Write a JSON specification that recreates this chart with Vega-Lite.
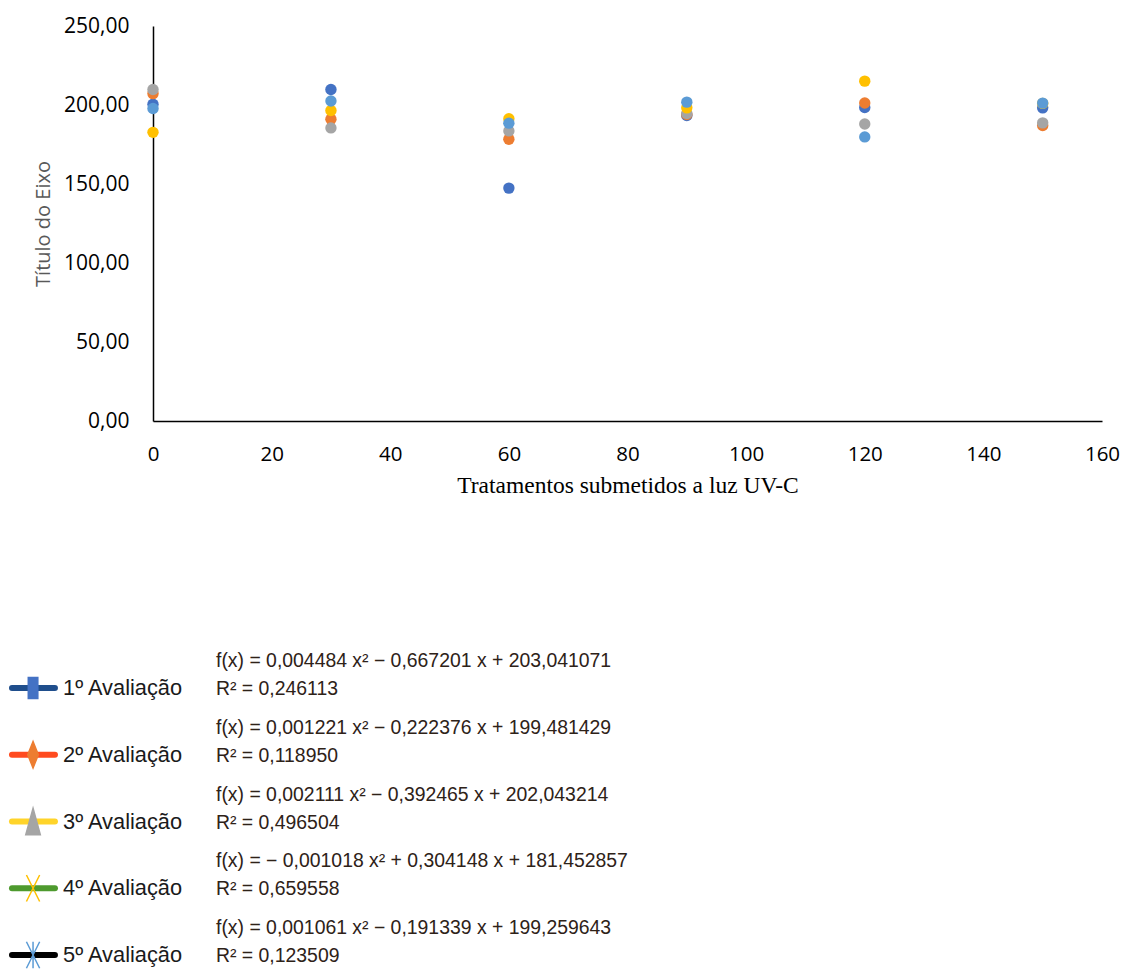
{
  "$schema": "https://vega.github.io/schema/vega-lite/v6.json",
  "background": "white",
  "padding": {"left": 8, "top": 15, "right": 5, "bottom": 2},
  "config": {
    "view": {"stroke": null},
    "locale": {"number": {"decimal": ",", "thousands": ".", "grouping": [3], "currency": ["R$", ""]}}
  },
  "datasets": {
    "medidas": [
      {"avaliacao": "1º Avaliação", "tratamento": 0, "titulo": 200.5},
      {"avaliacao": "1º Avaliação", "tratamento": 30, "titulo": 209.8},
      {"avaliacao": "1º Avaliação", "tratamento": 60, "titulo": 147.4},
      {"avaliacao": "1º Avaliação", "tratamento": 90, "titulo": 193.3},
      {"avaliacao": "1º Avaliação", "tratamento": 120, "titulo": 198.4},
      {"avaliacao": "1º Avaliação", "tratamento": 150, "titulo": 198.2},
      {"avaliacao": "2º Avaliação", "tratamento": 0, "titulo": 207.2},
      {"avaliacao": "2º Avaliação", "tratamento": 30, "titulo": 191.0},
      {"avaliacao": "2º Avaliação", "tratamento": 60, "titulo": 178.3},
      {"avaliacao": "2º Avaliação", "tratamento": 90, "titulo": 194.0},
      {"avaliacao": "2º Avaliação", "tratamento": 120, "titulo": 201.3},
      {"avaliacao": "2º Avaliação", "tratamento": 150, "titulo": 187.0},
      {"avaliacao": "3º Avaliação", "tratamento": 0, "titulo": 209.8},
      {"avaliacao": "3º Avaliação", "tratamento": 30, "titulo": 185.5},
      {"avaliacao": "3º Avaliação", "tratamento": 60, "titulo": 183.6},
      {"avaliacao": "3º Avaliação", "tratamento": 90, "titulo": 194.6},
      {"avaliacao": "3º Avaliação", "tratamento": 120, "titulo": 188.0},
      {"avaliacao": "3º Avaliação", "tratamento": 150, "titulo": 188.7},
      {"avaliacao": "4º Avaliação", "tratamento": 0, "titulo": 182.7},
      {"avaliacao": "4º Avaliação", "tratamento": 30, "titulo": 196.5},
      {"avaliacao": "4º Avaliação", "tratamento": 60, "titulo": 191.3},
      {"avaliacao": "4º Avaliação", "tratamento": 90, "titulo": 198.2},
      {"avaliacao": "4º Avaliação", "tratamento": 120, "titulo": 215.1},
      {"avaliacao": "4º Avaliação", "tratamento": 150, "titulo": 201.0},
      {"avaliacao": "5º Avaliação", "tratamento": 0, "titulo": 197.8},
      {"avaliacao": "5º Avaliação", "tratamento": 30, "titulo": 202.5},
      {"avaliacao": "5º Avaliação", "tratamento": 60, "titulo": 188.5},
      {"avaliacao": "5º Avaliação", "tratamento": 90, "titulo": 201.8},
      {"avaliacao": "5º Avaliação", "tratamento": 120, "titulo": 179.8},
      {"avaliacao": "5º Avaliação", "tratamento": 150, "titulo": 201.2}
    ],
    "legenda": [
      {"serie": "1º Avaliação", "equacao": "f(x) = 0,004484 x² − 0,667201 x + 203,041071", "r2": "R² = 0,246113"},
      {"serie": "2º Avaliação", "equacao": "f(x) = 0,001221 x² − 0,222376 x + 199,481429", "r2": "R² = 0,118950"},
      {"serie": "3º Avaliação", "equacao": "f(x) = 0,002111 x² − 0,392465 x + 202,043214", "r2": "R² = 0,496504"},
      {"serie": "4º Avaliação", "equacao": "f(x) = − 0,001018 x² + 0,304148 x + 181,452857", "r2": "R² = 0,659558"},
      {"serie": "5º Avaliação", "equacao": "f(x) = 0,001061 x² − 0,191339 x + 199,259643", "r2": "R² = 0,123509"}
    ]
  },
  "bounds": "flush",
  "spacing": 267,
  "resolve": {"scale": {"color": "independent", "x": "independent", "y": "independent"}},
  "vconcat": [
    {
      "width": 949,
      "height": 395,
      "data": {"name": "medidas"},
      "mark": {"type": "circle", "size": 130, "opacity": 1},
      "encoding": {
        "x": {
          "field": "tratamento", "type": "quantitative",
          "scale": {"domain": [0, 160], "nice": false},
          "axis": {
            "values": [0, 20, 40, 60, 80, 100, 120, 140, 160], "format": "d",
            "title": "Tratamentos submetidos a luz UV-C",
            "grid": false, "ticks": false, "tickSize": 0,
            "domainColor": "#000000", "domainWidth": 1.5,
            "labelFont": "Open Sans", "labelFontSize": 20.5, "labelColor": "#000000",
            "labelPadding": 23, "labelFlush": false,
            "titleFont": "Liberation Serif", "titleFontSize": 23.5, "titleFontWeight": "normal",
            "titleColor": "#000000", "titlePadding": 9
          }
        },
        "y": {
          "field": "titulo", "type": "quantitative",
          "scale": {"domain": [0, 250], "nice": false},
          "axis": {
            "values": [0, 50, 100, 150, 200, 250], "format": ".2f",
            "title": "Título do Eixo",
            "grid": false, "ticks": false, "tickSize": 0,
            "domainColor": "#000000", "domainWidth": 1.5,
            "labelFont": "Open Sans", "labelFontSize": 21, "labelColor": "#000000",
            "labelPadding": 24, "labelFlush": false,
            "titleFont": "Open Sans", "titleFontSize": 20, "titleFontWeight": "normal",
            "titleColor": "#595959", "titlePadding": 10
          }
        },
        "color": {
          "field": "avaliacao", "type": "nominal",
          "scale": {
            "domain": ["1º Avaliação", "2º Avaliação", "3º Avaliação", "4º Avaliação", "5º Avaliação"],
            "range": ["#4472C4", "#ED7D31", "#A5A5A5", "#FFC000", "#5B9BD5"]
          },
          "legend": null
        }
      }
    },
    {
      "width": 949,
      "height": 267,
      "data": {"name": "legenda"},
      "encoding": {
        "y": {
          "field": "serie", "type": "nominal",
          "scale": {"type": "point", "padding": 0, "domain": ["1º Avaliação", "2º Avaliação", "3º Avaliação", "4º Avaliação", "5º Avaliação"]},
          "axis": null
        }
      },
      "layer": [
        {
          "mark": {"type": "rule", "strokeWidth": 6, "strokeCap": "round"},
          "encoding": {
            "x": {"datum": -0.1486, "type": "quantitative", "scale": {"domain": [0, 1], "nice": false, "zero": false}, "axis": null},
            "x2": {"datum": -0.1033},
            "color": {
              "field": "serie", "type": "nominal",
              "scale": {
                "domain": ["1º Avaliação", "2º Avaliação", "3º Avaliação", "4º Avaliação", "5º Avaliação"],
                "range": ["#1F4E8C", "#FF4B1F", "#FFD42A", "#4E9A2E", "#000000"]
              },
              "legend": null
            }
          }
        },
        {
          "mark": {"type": "point", "size": 700, "strokeWidth": 1.5, "opacity": 1},
          "encoding": {
            "x": {"datum": -0.1264, "type": "quantitative"},
            "shape": {
              "field": "serie", "type": "nominal",
              "scale": {
                "domain": ["1º Avaliação", "2º Avaliação", "3º Avaliação", "4º Avaliação", "5º Avaliação"],
                "range": [
                  "M-0.36,-0.8H0.36V0.8H-0.36Z",
                  "M0,-1L0.4,0L0,1L-0.4,0Z",
                  "M0,-1L0.55,1H-0.55Z",
                  "M-0.5,-1L0.5,1M0.5,-1L-0.5,1",
                  "M-0.5,-1L0.5,1M0.5,-1L-0.5,1M0,-1V1"
                ]
              },
              "legend": null
            },
            "fill": {
              "field": "serie", "type": "nominal",
              "scale": {
                "domain": ["1º Avaliação", "2º Avaliação", "3º Avaliação", "4º Avaliação", "5º Avaliação"],
                "range": ["#4472C4", "#ED7D31", "#A5A5A5", "#FFC000", "#5B9BD5"]
              },
              "legend": null
            },
            "stroke": {
              "field": "serie", "type": "nominal",
              "scale": {
                "domain": ["1º Avaliação", "2º Avaliação", "3º Avaliação", "4º Avaliação", "5º Avaliação"],
                "range": ["#4472C4", "#ED7D31", "#A5A5A5", "#FFC000", "#5B9BD5"]
              },
              "legend": null
            }
          }
        },
        {
          "mark": {"type": "text", "align": "left", "baseline": "middle", "font": "Liberation Sans", "fontSize": 21.8, "color": "#1a1a1a"},
          "encoding": {
            "x": {"datum": -0.0948, "type": "quantitative"},
            "text": {"field": "serie", "type": "nominal"}
          }
        },
        {
          "mark": {"type": "text", "align": "left", "baseline": "middle", "dy": -27, "font": "Liberation Sans", "fontSize": 19.4, "color": "#2e2218"},
          "encoding": {
            "x": {"datum": 0.0664, "type": "quantitative"},
            "text": {"field": "equacao", "type": "nominal"}
          }
        },
        {
          "mark": {"type": "text", "align": "left", "baseline": "middle", "dy": 1, "font": "Liberation Sans", "fontSize": 19.4, "color": "#2e2218"},
          "encoding": {
            "x": {"datum": 0.0664, "type": "quantitative"},
            "text": {"field": "r2", "type": "nominal"}
          }
        }
      ]
    }
  ]
}
